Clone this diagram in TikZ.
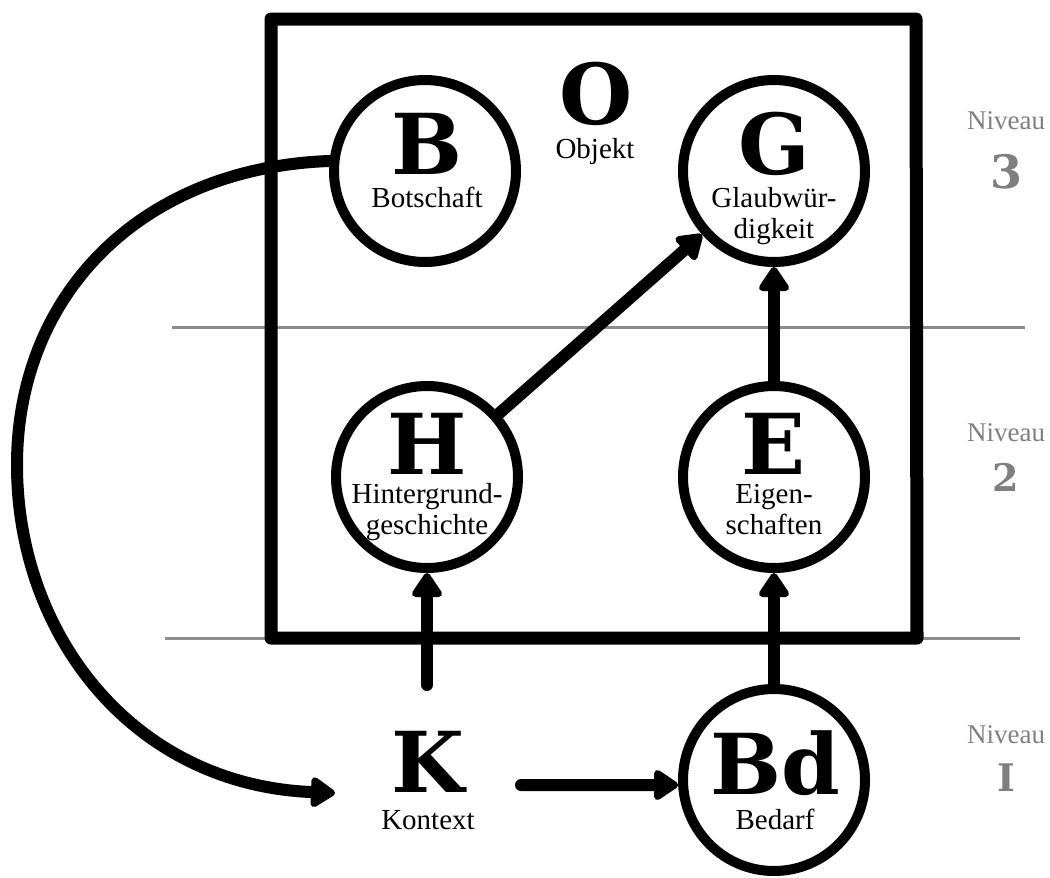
\documentclass[tikz,border=0pt]{standalone}
\usepackage{fontspec}
\setmainfont{Liberation Serif}
\newfontfamily\heavy{DejaVu Serif}
\usetikzlibrary{arrows.meta}
\definecolor{levelgray}{HTML}{7F7F7F}
\definecolor{rulegray}{HTML}{8C8C8C}
\tikzset{
  circ/.style={circle, draw, line width=10pt, minimum size=182pt, inner sep=0pt, fill=white},
  big/.style={font=\heavy\bfseries\fontsize{84}{84}\selectfont, anchor=base, inner sep=0pt},
  word/.style={font=\fontsize{29}{29}\selectfont, anchor=base, inner sep=0pt},
  lvl/.style={font=\fontsize{27}{27}\selectfont, text=levelgray, anchor=base, inner sep=0pt},
  lvlnum/.style={font=\heavy\bfseries\fontsize{#1}{#1}\selectfont, text=levelgray, inner sep=0pt},
  conn/.style={line width=12pt, line cap=round, -{Triangle[length=27pt,width=34pt,round]}},
  frame/.style={line width=13pt, line join=round},
  rule/.style={line width=3pt, draw=rulegray}
}
\begin{document}
\begin{tikzpicture}[x=1pt,y=-1pt]
\useasboundingbox (0,0) rectangle (1050,878);

% level separators
\draw[rule] (172,327) coordinate (r1a) -- (1025,327) coordinate (r1b);
\draw[rule] (165,638) coordinate (r2a) -- (1020,638) coordinate (r2b);

% object frame
\draw[frame] (271,19) -- (916,19) -- (917,638) -- (271,638) -- cycle;

% circles
\node[circ] (B)  at (425,171) {};
\node[circ] (G)  at (774,171) {};
\node[circ] (H)  at (427,477) {};
\node[circ] (E)  at (774,477) {};
\node[circ] (Bd) at (774,780) {};

% letters and captions
\node[big]  (Bl) at (427,174) {B};
\node[word] (Bt) at (427,207) {Botschaft};
\node[big]  (Ol) at (596,124) {O};
\node[word] (Ot) at (595,158) {Objekt};
\node[big]  (Gl) at (774,174) {G};
\node[word] (Gt1) at (774,207) {Glaubwür-};
\node[word] (Gt2) at (774,238) {digkeit};
\node[big]  (Hl) at (427,474) {H};
\node[word] (Ht1) at (427,503) {Hintergrund-};
\node[word] (Ht2) at (427,534) {geschichte};
\node[big]  (El) at (774,474) {E};
\node[word] (Et1) at (774,503) {Eigen-};
\node[word] (Et2) at (774,534) {schaften};
\node[big]  (Kl) at (428,792) {K};
\node[word] (Kt) at (428,829) {Kontext};
\node[big]  (Bdl) at (775,794) {Bd};
\node[word] (Bdt) at (775,829) {Bedarf};

% level labels
\node[lvl] (n3) at (1006,129) {Niveau};
\node[lvlnum=46] (d3) at (1006,172) {3};
\node[lvl] (n2) at (1006,441) {Niveau};
\node[lvlnum=38] (d2) at (1006,477) {2};
\node[lvl] (n1) at (1006,743) {Niveau};
\node[lvlnum=38] (d1) at (1006,778) {I};

% free ends of connectors
\coordinate (kup) at (427,685);
\coordinate (kright) at (521,785);
\coordinate (kleft) at (335,793);

% connectors
\draw[conn] (H) -- (G);
\draw[conn] (E.north) -- (G.south);
\draw[conn] (kup) -- (H.south);
\draw[conn] (Bd.north) -- (E.south);
\draw[conn] (kright) -- (Bd.183);
\draw[conn] (B.174) .. controls (140,168) and (17,295) .. (17,465)
                    .. controls (17,635) and (133,785) .. (kleft);
\end{tikzpicture}
\end{document}
